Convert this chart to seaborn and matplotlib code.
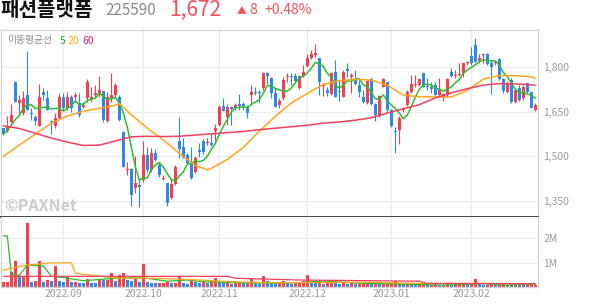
import numpy as np
import pandas as pd
import matplotlib
matplotlib.use("Agg")
import matplotlib.pyplot as plt
import seaborn as sns

# ---------------- data ----------------
holidays = ["2022-08-15", "2022-09-09", "2022-09-12", "2022-10-03", "2022-10-10",
            "2022-12-30", "2023-01-23", "2023-01-24"]
dates = pd.bdate_range("2022-08-10", "2023-02-23", freq="C", holidays=holidays)

opens = [1595, 1586, 1615, 1752, 1681, 1645, 1707, 1647, 1632, 1604,
         1718, 1698, 1620, 1603, 1628, 1701, 1662, 1701, 1701, 1679,
         1668, 1696, 1690, 1707, 1707, 1720, 1620, 1696, 1707, 1701,
         1581, 1455, 1457, 1395, 1403, 1421, 1505, 1455, 1511, 1471,
         1424, 1410, 1359, 1407, 1552, 1533, 1505, 1477, 1449, 1522,
         1552, 1544, 1544, 1584, 1606, 1670, 1634, 1668, 1663, 1677,
         1677, 1665, 1707, 1718, 1718, 1729, 1780, 1763, 1712, 1673,
         1696, 1766, 1771, 1771, 1729, 1772, 1804, 1830, 1841, 1830,
         1738, 1724, 1710, 1783, 1720, 1701, 1794, 1768, 1757, 1740,
         1699, 1681, 1760, 1677, 1640, 1735, 1750, 1656, 1587, 1589,
         1656, 1673, 1718, 1740, 1740, 1780, 1737, 1733, 1740, 1707,
         1701, 1707, 1785, 1771, 1773, 1780, 1813, 1838, 1875, 1822,
         1840, 1845, 1813, 1813, 1827, 1760, 1718, 1757, 1684, 1729,
         1696, 1746, 1718, 1656]
highs = [1597, 1636, 1677, 1755, 1707, 1720, 1856, 1662, 1640, 1744,
         1729, 1724, 1623, 1645, 1712, 1712, 1718, 1707, 1718, 1712,
         1684, 1761, 1735, 1740, 1772, 1720, 1718, 1782, 1746, 1707,
         1584, 1483, 1460, 1502, 1421, 1552, 1533, 1527, 1526, 1483,
         1438, 1412, 1427, 1471, 1634, 1561, 1511, 1533, 1502, 1544,
         1558, 1561, 1578, 1609, 1673, 1696, 1677, 1670, 1679, 1709,
         1684, 1673, 1740, 1735, 1724, 1783, 1783, 1766, 1729, 1696,
         1768, 1780, 1780, 1780, 1774, 1808, 1845, 1858, 1877, 1830,
         1746, 1735, 1785, 1825, 1757, 1791, 1813, 1780, 1791, 1757,
         1724, 1757, 1768, 1679, 1707, 1763, 1752, 1659, 1598, 1636,
         1668, 1724, 1774, 1774, 1760, 1782, 1763, 1752, 1752, 1763,
         1712, 1763, 1796, 1791, 1813, 1816, 1821, 1869, 1897, 1845,
         1847, 1847, 1824, 1824, 1830, 1763, 1755, 1763, 1726, 1740,
         1740, 1748, 1720, 1681]
lows = [1572, 1583, 1614, 1684, 1645, 1640, 1656, 1623, 1606, 1604,
        1690, 1656, 1574, 1595, 1623, 1656, 1656, 1651, 1684, 1632,
        1662, 1684, 1684, 1701, 1701, 1617, 1617, 1684, 1701, 1620,
        1463, 1438, 1335, 1376, 1329, 1415, 1449, 1449, 1485, 1432,
        1421, 1334, 1356, 1404, 1494, 1494, 1471, 1424, 1443, 1499,
        1508, 1539, 1535, 1544, 1604, 1653, 1606, 1606, 1656, 1656,
        1656, 1628, 1673, 1707, 1679, 1724, 1743, 1696, 1665, 1662,
        1690, 1752, 1740, 1746, 1726, 1768, 1802, 1827, 1836, 1707,
        1704, 1703, 1707, 1701, 1688, 1701, 1768, 1715, 1740, 1701,
        1679, 1677, 1673, 1620, 1632, 1733, 1651, 1600, 1513, 1542,
        1651, 1670, 1712, 1735, 1737, 1733, 1724, 1712, 1707, 1701,
        1688, 1701, 1768, 1765, 1771, 1768, 1808, 1808, 1817, 1813,
        1813, 1808, 1710, 1808, 1757, 1712, 1715, 1681, 1681, 1688,
        1690, 1712, 1664, 1654]
closes = [1574, 1600, 1640, 1684, 1690, 1696, 1656, 1643, 1620, 1701,
          1707, 1656, 1616, 1628, 1701, 1662, 1701, 1662, 1707, 1640,
          1673, 1752, 1701, 1712, 1724, 1623, 1701, 1707, 1740, 1623,
          1466, 1458, 1370, 1410, 1398, 1505, 1455, 1511, 1488, 1438,
          1429, 1345, 1407, 1466, 1525, 1496, 1477, 1427, 1496, 1516,
          1516, 1550, 1539, 1597, 1668, 1654, 1665, 1661, 1673, 1670,
          1670, 1645, 1716, 1712, 1712, 1780, 1771, 1712, 1668, 1688,
          1757, 1772, 1766, 1755, 1771, 1785, 1830, 1845, 1849, 1749,
          1743, 1712, 1782, 1701, 1716, 1784, 1789, 1774, 1743, 1716,
          1684, 1754, 1677, 1640, 1705, 1760, 1656, 1604, 1583, 1628,
          1662, 1718, 1744, 1744, 1760, 1735, 1733, 1726, 1707, 1724,
          1710, 1760, 1772, 1774, 1777, 1813, 1819, 1813, 1819, 1830,
          1845, 1810, 1802, 1819, 1760, 1720, 1746, 1684, 1724, 1690,
          1735, 1716, 1664, 1672]
volumes_m = [0.22, 0.22, 0.60, 1.07, 0.47, 0.47, 2.60, 0.20, 0.25, 1.07,
             0.20, 0.30, 0.25, 0.85, 0.25, 0.20, 0.40, 0.22, 0.22, 0.18,
             0.15, 0.35, 0.17, 0.15, 0.35, 0.28, 0.28, 0.58, 0.25, 0.48,
             0.58, 0.28, 0.25, 0.35, 0.22, 0.94, 0.22, 0.17, 0.15, 0.15,
             0.17, 0.20, 0.15, 0.17, 0.45, 0.15, 0.13, 0.30, 0.20, 0.18,
             0.20, 0.15, 0.30, 0.36, 0.20, 0.15, 0.18, 0.12, 0.15, 0.20,
             0.15, 0.20, 0.33, 0.15, 0.12, 0.44, 0.25, 0.20, 0.15, 0.15,
             0.25, 0.15, 0.12, 0.15, 0.15, 0.25, 0.49, 0.20, 0.15, 0.18,
             0.12, 0.20, 0.25, 0.15, 0.12, 0.15, 0.12, 0.15, 0.12, 0.12,
             0.15, 0.15, 0.12, 0.15, 0.12, 0.12, 0.15, 0.15, 0.25, 0.15,
             0.12, 0.15, 0.12, 0.10, 0.10, 0.12, 0.10, 0.10, 0.12, 0.10,
             0.10, 0.12, 0.10, 0.10, 0.10, 0.12, 0.10, 0.15, 0.33, 0.12,
             0.10, 0.10, 0.12, 0.10, 0.12, 0.12, 0.10, 0.12, 0.10, 0.15,
             0.10, 0.10, 0.10, 0.10]

# moving averages (index of trading day, value)
ma20_idx = [0, 4, 8, 12, 16, 20, 24, 28, 29, 32, 36, 40, 44, 48, 51, 52, 56, 60, 64, 68,
            72, 76, 80, 84, 88, 92, 96, 100, 104, 108, 112, 116, 120, 124, 128, 132, 133]
ma20_val = [1500, 1538, 1575, 1612, 1636, 1652, 1662, 1672, 1678, 1640, 1595, 1556, 1510,
            1470, 1455, 1460, 1490, 1530, 1585, 1635, 1680, 1712, 1742, 1755, 1759, 1757,
            1740, 1706, 1701, 1700, 1700, 1722, 1760, 1772, 1772, 1768, 1762]
ma60_idx = [0, 4, 8, 12, 16, 20, 24, 28, 32, 36, 40, 44, 48, 52, 56, 60, 64, 68, 72, 76,
            80, 84, 88, 92, 96, 100, 104, 108, 112, 116, 120, 124, 128, 132, 133]
ma60_val = [1603, 1594, 1578, 1562, 1548, 1537, 1538, 1552, 1566, 1568, 1567, 1568, 1572,
            1576, 1580, 1584, 1590, 1595, 1600, 1605, 1612, 1616, 1622, 1630, 1646, 1660,
            1674, 1697, 1714, 1728, 1740, 1745, 1744, 1741, 1740]
vma5_idx = [0, 1, 2, 4, 6, 10, 12, 15, 20, 28, 33, 36, 41, 46, 50, 58, 66, 74, 80, 90,
            100, 110, 120, 126, 133]
vma5_val = [2.09, 2.09, 0.52, 0.48, 0.90, 0.86, 0.45, 0.39, 0.26, 0.36, 0.38, 0.36, 0.24,
            0.29, 0.22, 0.18, 0.16, 0.18, 0.25, 0.15, 0.12, 0.08, 0.14, 0.08, 0.12]
vma20_idx = [0, 2, 6, 9, 12, 17, 18, 20, 25, 29, 38, 43, 49, 57, 66, 74, 90, 104, 120, 133]
vma20_val = [0.70, 0.77, 0.90, 0.94, 0.99, 0.99, 0.56, 0.52, 0.43, 0.36, 0.36, 0.33, 0.29,
             0.22, 0.18, 0.18, 0.20, 0.15, 0.15, 0.14]
vma60_idx = [0, 56, 58, 74, 104, 106, 133]
vma60_val = [0.44, 0.44, 0.36, 0.29, 0.24, 0.15, 0.14]

price_ticks = [1350, 1500, 1650, 1800]
vol_ticks = [1, 2]
vol_tick_labels = ["1M", "2M"]

title = "패션플랫폼"
code = "225590"
last_price = "1,672"
change = "8"
change_pct = "+0.48%"

# ---------------- style ----------------
sns.set_theme(style="white")
plt.rcParams["font.family"] = ["Noto Sans CJK KR", "DejaVu Sans"]

UP = "#f2414f"
DOWN = "#2e88e8"
C5 = "#2fbb2f"
C20 = "#ffa51f"
C60 = "#f2405f"
GRID = "#ececec"
TICK = "#9a9a9a"

W, H = 594, 304
fig = plt.figure(figsize=(W / 100, H / 100), dpi=100)

def fx(x):
    return x / W

def fy(y):
    return 1 - y / H

ax1 = fig.add_axes([fx(1), fy(216.8), fx(537.5) - fx(1), fy(29.5) - fy(216.8)])
ax2 = fig.add_axes([fx(1), fy(287.1), fx(537.5) - fx(1), fy(216.8) - fy(287.1)])

df = pd.DataFrame({"date": dates, "open": opens, "high": highs, "low": lows,
                   "close": closes, "vol": volumes_m})
df["i"] = np.arange(len(df))
df["up"] = df["close"] >= df["open"]
df["color"] = np.where(df["up"], UP, DOWN)
# volume bars are coloured by the change of volume against the previous day
df["vcolor"] = np.where(df["vol"].diff().fillna(0) >= 0, UP, DOWN)
df["ma5"] = df["close"].rolling(5, min_periods=1).mean()

month_start = df.groupby([df["date"].dt.year, df["date"].dt.month])["i"].min().values
month_start = [int(k) for k in month_start if k > 0]
month_labels = [df["date"].iloc[k].strftime("%Y.%m") for k in month_start]

for ax in (ax1, ax2):
    ax.set_xlim(-0.58, 133.55)
    ax.set_xticks(month_start)
    ax.grid(True, color=GRID, lw=0.9)
    ax.set_axisbelow(True)
    for s in ax.spines.values():
        s.set_color("#d4d4d4")
        s.set_linewidth(0.9)

# ---- price panel
ax1.vlines(df["i"], df["low"], df["high"], colors=df["color"], lw=0.8, zorder=2)
body_lo = np.minimum(df["open"], df["close"])
body_h = np.maximum(np.abs(df["close"] - df["open"]), 3.5)
ax1.bar(df["i"], body_h, bottom=body_lo, width=0.74, color=df["color"], lw=0, zorder=3)

sns.lineplot(x=df["i"], y=df["ma5"], ax=ax1, color=C5, lw=1.1, zorder=4)
sns.lineplot(x=ma20_idx, y=ma20_val, ax=ax1, color=C20, lw=1.1, zorder=4)
sns.lineplot(x=ma60_idx, y=ma60_val, ax=ax1, color=C60, lw=1.1, zorder=4)

ax1.set_ylim(1297, 1927)
ax1.set_yticks(price_ticks)
ax1.set_yticklabels([f"{v:,}" for v in price_ticks])
ax1.yaxis.tick_right()
ax1.tick_params(axis="y", length=0, pad=4, labelsize=7.5, labelcolor=TICK)
ax1.tick_params(axis="x", length=0, labelbottom=False)
ax1.set_xlabel("")
ax1.set_ylabel("")
ax1.spines["bottom"].set_color("#444444")
ax1.spines["bottom"].set_linewidth(1.4)

# ---- volume panel
ax2.bar(df["i"], df["vol"], width=0.74, color=df["vcolor"], lw=0, zorder=2)
sns.lineplot(x=vma5_idx, y=vma5_val, ax=ax2, color=C5, lw=0.9, zorder=3)
sns.lineplot(x=vma20_idx, y=vma20_val, ax=ax2, color=C20, lw=0.9, zorder=3)
sns.lineplot(x=vma60_idx, y=vma60_val, ax=ax2, color=C60, lw=0.9, zorder=3)
ax2.set_ylim(0, 2.87)
ax2.set_yticks(vol_ticks)
ax2.set_yticklabels(vol_tick_labels)
ax2.yaxis.tick_right()
ax2.tick_params(axis="y", length=0, pad=4, labelsize=7.5, labelcolor=TICK)
ax2.set_xticklabels(month_labels)
ax2.tick_params(axis="x", length=0, pad=1.5, labelsize=7.5, labelcolor=TICK)
ax2.set_xlabel("")
ax2.set_ylabel("")
ax2.spines["top"].set_visible(False)

# ---- header texts
fig.text(fx(0), fy(10), title, fontsize=14.5, fontweight="bold", color="#111111",
         va="center", ha="left")
fig.text(fx(105), fy(10.5), code, fontsize=11, color="#8a8a8a", va="center", ha="left")
fig.text(fx(169), fy(9.5), last_price, fontsize=15, color="#f4505c", va="center", ha="left")
fig.text(fx(237), fy(10.5), "▲", fontsize=7, color="#f4505c", va="center", ha="left")
fig.text(fx(249), fy(10.5), change, fontsize=10, color="#f4505c", va="center", ha="left")
fig.text(fx(264), fy(10.5), change_pct, fontsize=10, color="#f4505c", va="center", ha="left")

# ---- legend
fig.text(fx(7), fy(40.5), "이동평균선", fontsize=7, color="#8c8c8c", va="center", ha="left")
fig.text(fx(59.5), fy(40.5), "5", fontsize=7.5, color="#22b522", va="center", ha="left")
fig.text(fx(67.5), fy(40.5), "20", fontsize=7.5, color="#ffa51f", va="center", ha="left")
fig.text(fx(82.5), fy(40.5), "60", fontsize=7.5, color="#ec1c5a", va="center", ha="left")

# ---- watermark
fig.text(fx(4), fy(206), "©PAXNet", fontsize=11.5, fontweight="bold", color="#cdcdcd",
         va="center", ha="left")

fig.savefig("out.png", dpi=100)
